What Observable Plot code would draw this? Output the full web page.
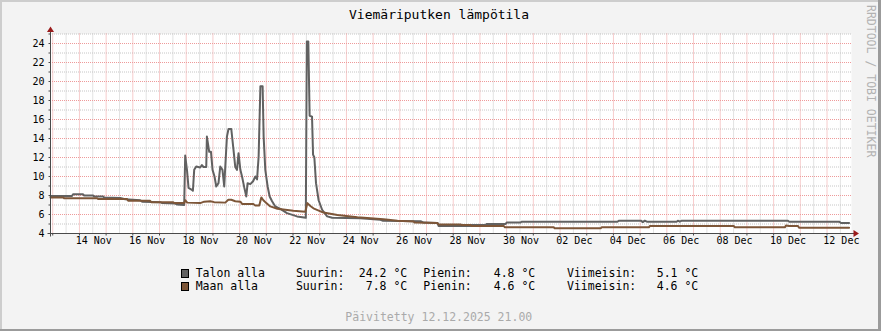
<!DOCTYPE html>
<html>
<head>
<meta charset="utf-8">
<script src="https://cdn.jsdelivr.net/npm/d3@7"></script>
<script src="https://cdn.jsdelivr.net/npm/@observablehq/plot@0.6"></script>
<style>
  html, body { margin: 0; padding: 0; background: #f3f3f3; }
  #wrap { position: relative; width: 881px; height: 331px; background: #f3f3f3; overflow: hidden;
          font-family: "DejaVu Sans Mono", monospace; color: #000; }
  #wrap > * { position: absolute; }
  .t { white-space: pre; font-size: 11.5px; line-height: 11.5px; }
</style>
</head>
<body>
<div id="wrap"></div>
<script>
// ---------- data ----------
const talonTime = [
  "2025-11-12 22:00","2025-11-13 17:20","2025-11-13 18:15","2025-11-14 03:20","2025-11-14 04:15","2025-11-14 12:20","2025-11-14 13:15","2025-11-14 21:20","2025-11-14 22:15","2025-11-15 12:40",
  "2025-11-15 17:05","2025-11-16 06:35","2025-11-16 08:25","2025-11-17 00:40","2025-11-17 02:25","2025-11-17 14:05","2025-11-17 15:55","2025-11-17 22:10","2025-11-17 23:05","2025-11-18 00:40",
  "2025-11-18 02:05","2025-11-18 05:05","2025-11-18 06:00","2025-11-18 07:10","2025-11-18 09:00","2025-11-18 12:35","2025-11-18 14:05","2025-11-18 15:35","2025-11-18 18:00","2025-11-18 18:35",
  "2025-11-18 20:40","2025-11-18 22:15","2025-11-18 23:40","2025-11-19 01:25","2025-11-19 03:00","2025-11-19 05:00","2025-11-19 06:35","2025-11-19 08:35","2025-11-19 10:10","2025-11-19 11:05",
  "2025-11-19 12:35","2025-11-19 14:00","2025-11-19 16:30","2025-11-19 18:30","2025-11-19 20:05","2025-11-19 21:35","2025-11-19 23:00","2025-11-20 00:40","2025-11-20 02:10","2025-11-20 04:15",
  "2025-11-20 06:00","2025-11-20 07:10","2025-11-20 09:35","2025-11-20 12:05","2025-11-20 14:10","2025-11-20 15:40","2025-11-20 17:05","2025-11-20 18:40","2025-11-20 20:40","2025-11-20 21:35",
  "2025-11-20 23:05","2025-11-21 01:10","2025-11-21 03:00","2025-11-21 05:10","2025-11-21 08:05","2025-11-21 12:35","2025-11-21 18:35","2025-11-22 03:35","2025-11-22 11:30","2025-11-22 12:25",
  "2025-11-22 13:45","2025-11-22 14:55","2025-11-22 17:05","2025-11-22 18:00","2025-11-22 19:10","2025-11-22 20:40","2025-11-22 23:00","2025-11-23 02:10","2025-11-23 06:40","2025-11-23 11:10",
  "2025-11-24 12:35","2025-11-25 06:35","2025-11-25 08:25","2025-11-26 18:40","2025-11-26 21:20","2025-11-27 09:55","2025-11-27 10:50","2025-11-28 15:35","2025-11-28 16:30","2025-11-29 05:10",
  "2025-11-29 06:00","2025-11-29 23:05","2025-11-30 00:00","2025-11-30 12:35","2025-11-30 13:30","2025-12-04 03:50","2025-12-04 04:45","2025-12-05 00:40","2025-12-05 02:25","2025-12-05 04:10",
  "2025-12-05 06:00","2025-12-06 09:00","2025-12-06 09:55","2025-12-06 11:40","2025-12-06 13:30","2025-12-10 12:55","2025-12-10 13:50","2025-12-12 10:50","2025-12-12 12:35","2025-12-12 19:50"
];
const talonTemp = [
  7.95, 7.95, 8.12, 8.12, 8.0, 8.0, 7.9, 7.9, 7.8, 7.75,
  7.6, 7.5, 7.35, 7.3, 7.2, 7.15, 7.05, 7.0, 12.2, 10.7,
  8.8, 8.6, 8.5, 10.7, 11.05, 10.95, 11.2, 11.0, 11.0, 14.2,
  12.6, 12.6, 10.7, 10.0, 8.95, 9.3, 11.05, 10.7, 8.95, 11.0,
  14.2, 15.0, 15.0, 12.8, 11.0, 10.7, 12.45, 10.7, 10.0, 8.8,
  7.9, 9.3, 9.2, 9.5, 10.0, 9.7, 12.1, 19.5, 19.5, 14.2,
  10.7, 8.95, 7.9, 7.4, 6.85, 6.6, 6.15, 5.8, 5.65, 24.2,
  24.2, 16.4, 16.3, 12.3, 12.0, 9.3, 7.5, 6.5, 5.8, 5.65,
  5.6, 5.45, 5.35, 5.3, 5.15, 5.1, 4.8, 4.8, 4.9, 4.9,
  5.0, 5.0, 5.15, 5.15, 5.25, 5.25, 5.35, 5.35, 5.2, 5.35,
  5.25, 5.25, 5.35, 5.25, 5.35, 5.35, 5.25, 5.25, 5.1, 5.1
];
const maanTime = [
  "2025-11-12 22:00","2025-11-13 09:15","2025-11-13 10:10","2025-11-14 15:55","2025-11-14 16:50","2025-11-15 18:55","2025-11-15 19:50","2025-11-16 15:35","2025-11-16 16:30","2025-11-17 12:20",
  "2025-11-17 13:10","2025-11-17 22:10","2025-11-17 23:05","2025-11-18 00:55","2025-11-18 12:35","2025-11-18 16:10","2025-11-18 21:35","2025-11-19 01:10","2025-11-19 11:05","2025-11-19 13:50",
  "2025-11-19 16:30","2025-11-19 20:05","2025-11-20 00:40","2025-11-20 02:25","2025-11-20 12:20","2025-11-20 14:05","2025-11-20 17:40","2025-11-20 19:30","2025-11-20 21:20","2025-11-21 00:00",
  "2025-11-21 03:35","2025-11-21 09:55","2025-11-21 17:05","2025-11-22 00:15","2025-11-22 11:05","2025-11-22 12:55","2025-11-22 15:35","2025-11-22 18:20","2025-11-23 03:20","2025-11-23 15:55",
  "2025-11-24 09:55","2025-11-25 09:20","2025-11-25 21:55","2025-11-26 12:20","2025-11-26 13:10","2025-11-27 09:55","2025-11-27 10:50","2025-11-28 06:35","2025-11-28 07:30","2025-11-28 15:35",
  "2025-11-28 16:30","2025-11-29 21:35","2025-11-29 22:30","2025-12-01 18:20","2025-12-01 19:10","2025-12-03 12:35","2025-12-03 13:30","2025-12-05 07:50","2025-12-05 08:40","2025-12-08 12:20",
  "2025-12-08 13:10","2025-12-10 10:10","2025-12-10 11:05","2025-12-10 13:50","2025-12-10 21:55","2025-12-10 22:50","2025-12-12 19:50"
];
const maanTemp = [
  7.8, 7.8, 7.72, 7.72, 7.62, 7.62, 7.45, 7.45, 7.3, 7.3,
  7.2, 7.2, 7.5, 7.25, 7.2, 7.35, 7.4, 7.3, 7.25, 7.55,
  7.55, 7.4, 7.35, 7.1, 7.1, 6.95, 6.95, 7.8, 7.5, 7.2,
  6.85, 6.6, 6.5, 6.4, 6.3, 7.2, 6.9, 6.65, 6.2, 5.95,
  5.7, 5.5, 5.35, 5.27, 5.15, 5.1, 4.95, 4.95, 4.9, 4.9,
  4.78, 4.78, 4.65, 4.65, 4.56, 4.56, 4.65, 4.65, 4.78, 4.78,
  4.65, 4.65, 4.85, 4.78, 4.78, 4.6, 4.6
];
const seriesNames = ["Talon alla", "Maan alla"];
const suurin = [24.2, 7.8];
const pienin = [4.8, 4.6];
const viimeisin = [5.1, 4.6];
const yTickValues = [4, 6, 8, 10, 12, 14, 16, 18, 20, 22, 24];
const xTickDates = ["2025-11-14 12:00","2025-11-16 12:00","2025-11-18 12:00","2025-11-20 12:00","2025-11-22 12:00",
  "2025-11-24 12:00","2025-11-26 12:00","2025-11-28 12:00","2025-11-30 12:00","2025-12-02 12:00",
  "2025-12-04 12:00","2025-12-06 12:00","2025-12-08 12:00","2025-12-10 12:00","2025-12-12 12:00"];
const timeDomain = ["2025-11-12 22:00", "2025-12-12 22:00"];
const yDomain = [4, 25];
const titleText = "Viemäriputken lämpötila";
const footerText = "Päivitetty 12.12.2025 21.00";
const watermarkText = "RRDTOOL / TOBI OETIKER";

// ---------- styles ----------
const colors = ["#616161", "#7d5638"];
const minorColor = "#c6c6c6";
const majorColor = "#ee9a9a";
const axisColor = "#4a4a4a";
const arrowColor = "#9a1b1b";

const parse = d3.utcParse("%Y-%m-%d %H:%M");
const talon = talonTime.map((t, i) => ({t: parse(t), v: talonTemp[i]}));
const maan = maanTime.map((t, i) => ({t: parse(t), v: maanTemp[i]}));
const [t0, t1] = timeDomain.map(parse);
const majorX = d3.utcDay.range(d3.utcDay.ceil(t0), t1);
const minorX = d3.utcHour.every(12).range(t0, t1).filter(d => d.getUTCHours() === 12);
const yAll = d3.range(yDomain[0] + 1, yDomain[1] + 1);
const majorY = yAll.filter(v => v % 2 === 0);
const minorY = yAll.filter(v => v % 2 === 1);

const chart = Plot.plot({
  width: 881, height: 255,
  marginLeft: 50, marginRight: 30, marginTop: 33.5, marginBottom: 22,
  style: {background: "transparent", fontFamily: "'DejaVu Sans Mono', monospace", fontSize: "10px", color: "#000", overflow: "visible"},
  x: {type: "utc", domain: [t0, t1], label: null},
  y: {domain: yDomain, label: null},
  marks: [
    Plot.frame({fill: "#ffffff", stroke: "none"}),
    Plot.ruleX(minorX, {stroke: minorColor, strokeDasharray: "1,1"}),
    Plot.ruleY(minorY, {stroke: minorColor, strokeDasharray: "1,1"}),
    Plot.ruleX(majorX, {stroke: majorColor, strokeDasharray: "1,1"}),
    Plot.ruleY(majorY, {stroke: majorColor, strokeDasharray: "1,1"}),
    Plot.line(talon, {x: "t", y: "v", stroke: colors[0], strokeWidth: 2}),
    Plot.line(maan, {x: "t", y: "v", stroke: colors[1], strokeWidth: 2}),
    Plot.axisY(yTickValues, {tickSize: 0, tickPadding: 6, tickFormat: d => String(d)}),
    Plot.axisX(xTickDates.map(parse), {tickSize: 0, tickPadding: 3.5, dx: 1, tickFormat: d3.utcFormat("%d %b")})
  ]
});

// axis lines, ticks and arrows from the plot's own scales
const sxs = chart.scale("x"), sys = chart.scale("y");
const sx = d3.scaleUtc().domain(sxs.domain).range(sxs.range);
const sy = d3.scaleLinear().domain(sys.domain).range(sys.range);
const xl = sx(t0), xr = sx(t1), yb = sy(yDomain[0]), yt = sy(yDomain[1]);
const g = d3.select(chart).append("g").attr("transform", "translate(0.5,0.5)");
majorX.forEach(d => g.append("line").attr("x1", sx(d)).attr("x2", sx(d)).attr("y1", yb).attr("y2", yb + 2).attr("stroke", axisColor));
yAll.forEach(v => g.append("line").attr("x1", xl - 2).attr("x2", xl).attr("y1", sy(v)).attr("y2", sy(v)).attr("stroke", axisColor));
g.append("line").attr("x1", xl).attr("x2", xl).attr("y1", yb + 3).attr("y2", yt - 3).attr("stroke", axisColor);
g.append("line").attr("x1", xl - 3).attr("x2", xr + 3).attr("y1", yb).attr("y2", yb).attr("stroke", axisColor);
g.append("path").attr("d", `M${xl - 3.5},${yt - 2}L${xl + 3.5},${yt - 2}L${xl},${yt - 7.5}Z`).attr("fill", arrowColor);
g.append("path").attr("d", `M${xr + 2},${yb - 3.5}L${xr + 2},${yb + 3.5}L${xr + 7.5},${yb}Z`).attr("fill", arrowColor);

// ---------- page ----------
const wrap = d3.select("#wrap");
wrap.node().appendChild(chart);
d3.select(chart).style("position", "absolute").style("left", "0px").style("top", "0px");

// 3D border
wrap.append("div").style("left", "0px").style("top", "0px").style("width", "881px").style("height", "2px").style("background", "#cdcdcd");
wrap.append("div").style("left", "0px").style("top", "0px").style("width", "2px").style("height", "331px").style("background", "#cdcdcd");
wrap.append("div").style("left", "878px").style("top", "0px").style("width", "3px").style("height", "331px").style("background", "#9b9b9b");
wrap.append("div").style("left", "0px").style("top", "329px").style("width", "881px").style("height", "2px").style("background", "#9b9b9b");

// title
wrap.append("div").text(titleText)
  .style("left", "349px").style("top", "7.5px").style("font-size", "13px").style("line-height", "13px").style("white-space", "pre");

// watermark
wrap.append("div").text(watermarkText)
  .style("left", "864.5px").style("top", "5px").style("font-size", "11.5px").style("line-height", "12px")
  .style("writing-mode", "vertical-rl").style("color", "#b2b2b2").style("white-space", "pre");

// legend
const rowTops = [267.7, 281];
const fmt = v => `${v.toFixed(1).padStart(4)} °C`;
seriesNames.forEach((name, i) => {
  const top = rowTops[i];
  wrap.append("div").style("left", "181px").style("top", (top + 1.3) + "px").style("width", "8px").style("height", "8.5px")
    .style("box-sizing", "border-box").style("border", "1px solid #000").style("background", colors[i]);
  const cols = [[195.7, name], [295.9, "Suurin:"], [358.8, fmt(suurin[i])], [423.3, "Pienin:"], [486.8, fmt(pienin[i])],
                [567, "Viimeisin:"], [649.8, fmt(viimeisin[i])]];
  cols.forEach(([left, txt]) => wrap.append("div").attr("class", "t").text(txt).style("left", left + "px").style("top", top + "px"));
});

// footer
wrap.append("div").attr("class", "t").text(footerText).style("left", "345.3px").style("top", "312px").style("color", "#aaaaaa");
</script>
</body>
</html>
